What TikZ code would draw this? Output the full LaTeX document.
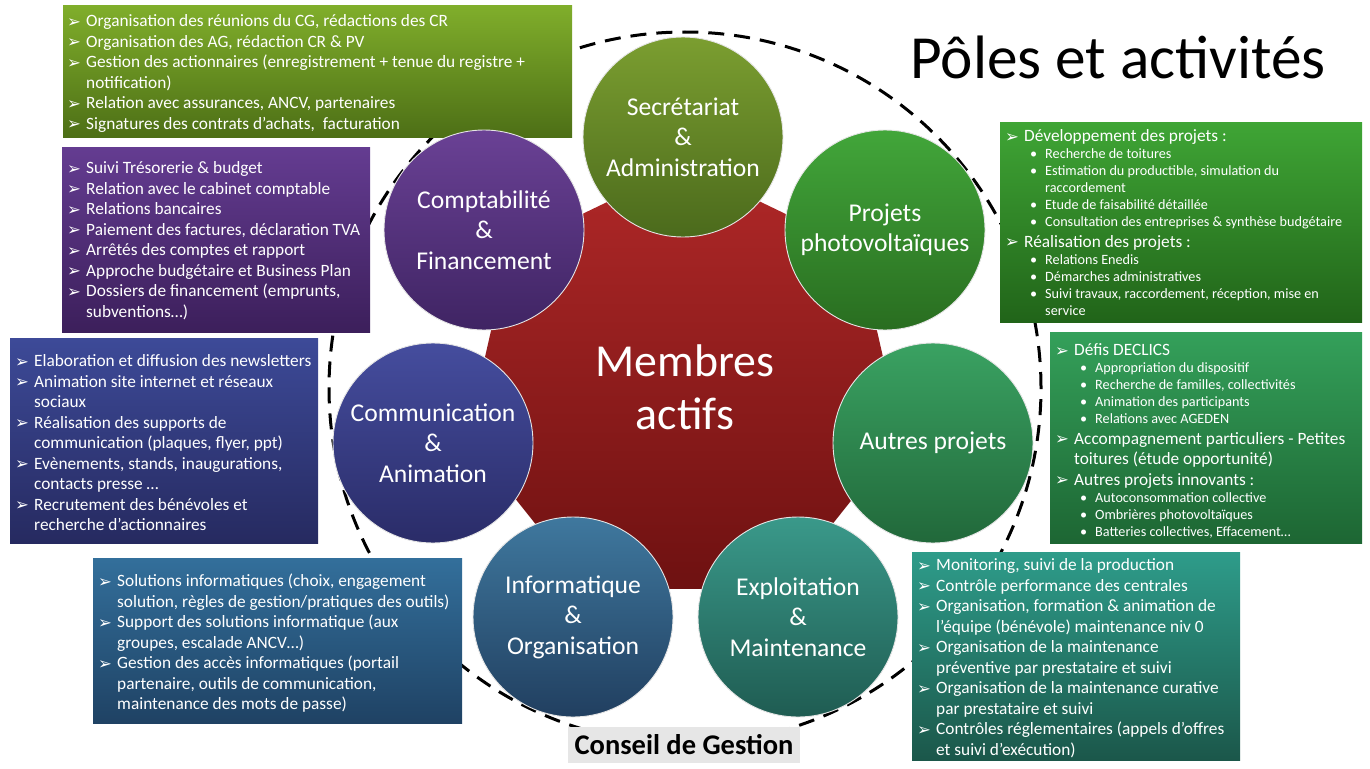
\documentclass[tikz,border=0pt]{standalone}
\usepackage{fontspec}
\setmainfont{Carlito}
\newfontfamily\dvfont{DejaVu Sans}
\usetikzlibrary{shapes.geometric}

\definecolor{secT}{HTML}{7B9E30}\definecolor{secB}{HTML}{4B6A1C}
\definecolor{pvT}{HTML}{42A63A}\definecolor{pvB}{HTML}{296D20}
\definecolor{apT}{HTML}{3AA262}\definecolor{apB}{HTML}{21683A}
\definecolor{exT}{HTML}{3A998A}\definecolor{exB}{HTML}{1F5C52}
\definecolor{inT}{HTML}{3F789E}\definecolor{inB}{HTML}{213F60}
\definecolor{coT}{HTML}{454D9E}\definecolor{coB}{HTML}{2A2C68}
\definecolor{cpT}{HTML}{6A4195}\definecolor{cpB}{HTML}{3F2463}
\definecolor{rdT}{HTML}{B02828}\definecolor{rdB}{HTML}{6E1111}
\definecolor{b1T}{HTML}{80AE2B}\definecolor{b1B}{HTML}{4D6F16}
\definecolor{b2T}{HTML}{643C91}\definecolor{b2B}{HTML}{3C1F5B}
\definecolor{b3T}{HTML}{3D4A98}\definecolor{b3B}{HTML}{262A60}
\definecolor{b4T}{HTML}{3FA535}\definecolor{b4B}{HTML}{216419}
\definecolor{b5T}{HTML}{34A05A}\definecolor{b5B}{HTML}{1D6633}
\definecolor{b6T}{HTML}{2E9C8A}\definecolor{b6B}{HTML}{1B574A}
\definecolor{b7T}{HTML}{336F9B}\definecolor{b7B}{HTML}{1F4264}
\definecolor{cgray}{HTML}{E6E6E6}

\newcommand\itm[1]{\par\spaceskip=0pt\xspaceskip=0pt\hangindent=19pt\hangafter=1\noindent\makebox[19pt][l]{\raisebox{-0.5pt}{\dvfont\fontsize{16.5}{16.5}\selectfont ➢}}#1}
\newcommand\subitm[1]{\par{\fontsize{14.2}{17}\selectfont\spaceskip=0pt\xspaceskip=0pt\hangindent=40pt\hangafter=1\noindent\hspace*{25pt}\makebox[15pt][l]{•}#1\par}}

\tikzset{
  pole/.style={circle, draw=white!80!gray, line width=0.9pt, minimum size=200pt,
    inner sep=0pt, text=white, align=center, font=\fontsize{25.6}{30.5}\selectfont},
  actbox/.style n args={4}{rectangle, anchor=north west, inner sep=0pt,
    minimum width=#1, minimum height=#2, top color=#3, bottom color=#4},
  acttext/.style={anchor=north west, inner sep=0pt, text=white, align=left,
    font=\fontsize{17.3}{20.5}\selectfont},
}

\begin{document}
\begin{tikzpicture}[x=1pt,y=-1pt]
\useasboundingbox (0,0) rectangle (1370,768);

% outer dashed ring
\node[circle, draw=black, line width=3pt, dash pattern=on 16pt off 10pt,
  minimum size=712pt, inner sep=0pt] (ring) at (685,388) {};

% activity boxes
\node[actbox={509pt}{132pt}{b1T}{b1B}] (b1) at (63,5) {};
\node[actbox={308pt}{185pt}{b2T}{b2B}] (b2) at (62,147) {};
\node[actbox={308pt}{205pt}{b3T}{b3B}] (b3) at (10,338) {};
\node[actbox={362pt}{200pt}{b4T}{b4B}] (b4) at (1000,122) {};
\node[actbox={312pt}{211pt}{b5T}{b5B}] (b5) at (1050,332) {};
\node[actbox={328pt}{208pt}{b6T}{b6B}] (b6) at (912,552) {};
\node[actbox={369pt}{165pt}{b7T}{b7B}] (b7) at (93,558) {};

% central heptagon
\node[regular polygon, regular polygon sides=7, minimum size=446pt, inner sep=0pt,
  top color=rdT, bottom color=rdB] (core) at (684,388) {};
\node[text=white, align=center, font=\fontsize{45.8}{53}\selectfont] (coretxt) at (685,387) {Membres\\actifs};

% poles
\node[pole, top color=secT, bottom color=secB] (sec) at (683,137) {Secrétariat\\\&\\Administration};
\node[pole, top color=pvT, bottom color=pvB] (pv) at (885,230) {Projets\\photovoltaïques};
\node[pole, top color=apT, bottom color=apB] (ap) at (933,443) {\spaceskip=0pt Autres projets};
\node[pole, top color=exT, bottom color=exB] (ex) at (798,617) {Exploitation\\\&\\Maintenance};
\node[pole, top color=inT, bottom color=inB] (inf) at (573,617) {Informatique\\\&\\Organisation};
\node[pole, top color=coT, bottom color=coB] (com) at (433,443) {Communication\\\&\\Animation};
\node[pole, top color=cpT, bottom color=cpB] (cpt) at (484,230) {Comptabilité\\\&\\Financement};

% texts
\node[acttext, text width=500pt] (t1) at (67,6) {%
\itm{Organisation des réunions du CG, rédactions des CR}
\itm{Organisation des AG, rédaction CR \& PV}
\itm{Gestion des actionnaires (enregistrement + tenue du registre +\newline notification)}
\itm{Relation avec assurances, ANCV, partenaires}
\itm{Signatures des contrats d’achats,\ \ facturation}\par};

\node[acttext, text width=302pt] (t2) at (67,153) {%
\itm{Suivi Trésorerie \& budget}
\itm{Relation avec le cabinet comptable}
\itm{Relations bancaires}
\itm{Paiement des factures, déclaration TVA}
\itm{Arrêtés des comptes et rapport}
\itm{Approche budgétaire et Business Plan}
\itm{Dossiers de financement (emprunts,\newline subventions…)}\par};

\node[acttext, text width=303pt] (t3) at (15,346) {%
\itm{Elaboration et diffusion des newsletters}
\itm{Animation site internet et réseaux\newline sociaux}
\itm{Réalisation des supports de\newline communication (plaques, flyer, ppt)}
\itm{Evènements, stands, inaugurations,\newline contacts presse …}
\itm{Recrutement des bénévoles et\newline recherche d’actionnaires}\par};

\node[acttext, text width=356pt] (t4) at (1005,121) {%
\itm{Développement des projets :}
\subitm{Recherche de toitures}
\subitm{Estimation du productible, simulation du\newline raccordement}
\subitm{Etude de faisabilité détaillée}
\subitm{Consultation des entreprises \& synthèse budgétaire}
\itm{Réalisation des projets :}
\subitm{Relations Enedis}
\subitm{Démarches administratives}
\subitm{Suivi travaux, raccordement, réception, mise en\newline service}};

\node[acttext, text width=306pt] (t5) at (1055,335) {%
\itm{Défis DECLICS}
\subitm{Appropriation du dispositif}
\subitm{Recherche de familles, collectivités}
\subitm{Animation des participants}
\subitm{Relations avec AGEDEN}
\itm{Accompagnement particuliers - Petites\newline toitures (étude opportunité)}
\itm{Autres projets innovants :}
\subitm{Autoconsommation collective}
\subitm{Ombrières photovoltaïques}
\subitm{Batteries collectives, Effacement…}};

\node[acttext, text width=322pt] (t6) at (917,550) {%
\itm{Monitoring, suivi de la production}
\itm{Contrôle performance des centrales}
\itm{Organisation, formation \& animation de\newline l’équipe (bénévole) maintenance niv 0}
\itm{Organisation de la maintenance\newline préventive par prestataire et suivi}
\itm{Organisation de la maintenance curative\newline par prestataire et suivi}
\itm{Contrôles réglementaires (appels d’offres\newline et suivi d’exécution)}\par};

\node[acttext, text width=363pt] (t7) at (98,566) {%
\itm{Solutions informatiques (choix, engagement\newline solution, règles de gestion/pratiques des outils)}
\itm{Support des solutions informatique (aux\newline groupes, escalade ANCV…)}
\itm{Gestion des accès informatiques (portail\newline partenaire, outils de communication,\newline maintenance des mots de passe)}\par};

% labels
\node[fill=cgray, inner sep=0pt, minimum width=232pt, minimum height=36pt,
  font=\bfseries\fontsize{28.5}{32}\selectfont] (cg) at (684,745) {Conseil de Gestion};
\node[anchor=base, inner sep=0pt, font=\fontsize{61.3}{72}\selectfont] (title) at (1118,78) {Pôles et activités};
\end{tikzpicture}
\end{document}
